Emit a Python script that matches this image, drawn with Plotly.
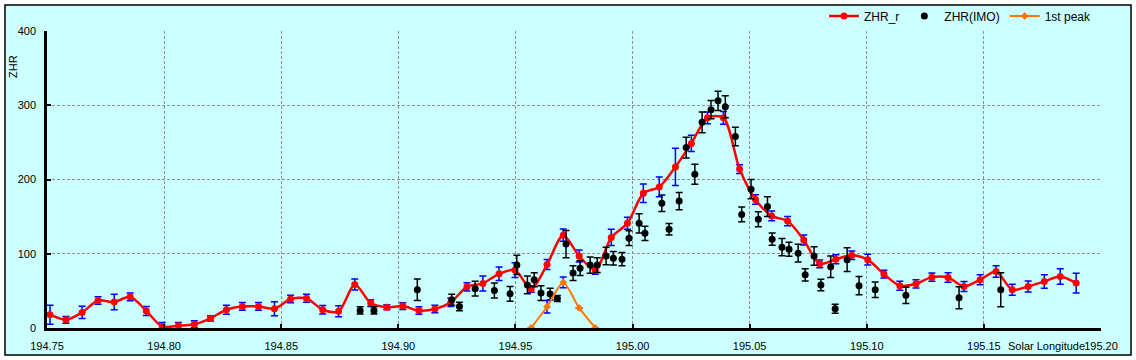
import plotly.graph_objects as go

# ---------------- data ----------------
red_sl = [194.7445, 194.7513, 194.7581, 194.7650, 194.7718, 194.7787, 194.7855, 194.7924, 194.7992,
          194.8061, 194.8129, 194.8198, 194.8266, 194.8334, 194.8403, 194.8471, 194.8540,
          194.8608, 194.8677, 194.8745, 194.8814, 194.8882, 194.8951, 194.9019, 194.9088,
          194.9156, 194.9224, 194.9293, 194.9361, 194.9430, 194.9498, 194.9567, 194.9635,
          194.9704, 194.9772, 194.9841, 194.9909, 194.9978, 195.0046, 195.0114, 195.0183,
          195.0251, 195.0320, 195.0388, 195.0457, 195.0525, 195.0594, 195.0662, 195.0731,
          195.0799, 195.0868, 195.0936, 195.1004, 195.1073, 195.1141, 195.1210, 195.1278,
          195.1347, 195.1415, 195.1484, 195.1552, 195.1621, 195.1689, 195.1758, 195.1826,
          195.1894]
red_zhr = [27, 18, 11, 21, 37, 35, 42, 23, 2, 3, 5, 13, 24.6, 29, 29, 26, 39, 40, 24.6, 22.5,
           58.5, 33.6, 28, 29.5, 23.5, 25.5, 34.5, 55.5, 60, 73, 78, 52.5, 85.5, 125, 97,
           78, 122, 141, 181.5, 190, 217, 248.6, 283, 283, 214, 173, 151, 144, 118.5, 86.5,
           92.7, 98, 92, 72.6, 57, 59.5, 68.5, 68, 56, 65, 76, 51.5, 56, 62.6, 69.4, 60.5]
red_err = [6, 12.8, 4.5, 8.3, 5, 10.5, 5.2, 6, 5.4, 4.3, 4.7, 3.6, 6, 5.2, 5.2, 9.4, 5, 5.4,
           5.8, 7.4, 7.4, 4.5, 3.4, 4.5, 5, 5, 5.6, 5.6, 10, 9, 9.9, 4.5, 6.7, 8.3, 8, 5.6,
           11, 8, 12.5, 13.4, 25, 11, 8, 8.5, 6, 6.5, 6.5, 6.3, 6.7, 5.2, 6, 5.8, 7.2, 5.2,
           6, 5.6, 5.6, 6.3, 6.7, 6.7, 7.8, 7.4, 7.4, 9, 10.5, 13.4]

imo_sl = [194.8837, 194.8896, 194.9081, 194.9228, 194.9261, 194.9328, 194.9410, 194.9477,
          194.9506, 194.9551, 194.9580, 194.9609, 194.9648, 194.9679, 194.9716, 194.9746,
          194.9776, 194.9819, 194.9849, 194.9887, 194.9918, 194.9955, 194.9985, 195.0028,
          195.0053, 195.0125, 195.0156, 195.0199, 195.0229, 195.0266, 195.0297, 195.0335,
          195.0365, 195.0396, 195.0439, 195.0466, 195.0506, 195.0537, 195.0576, 195.0596,
          195.0638, 195.0668, 195.0707, 195.0737, 195.0775, 195.0804, 195.0846, 195.0865,
          195.0916, 195.0967, 195.1036, 195.1167, 195.1394, 195.1572]
imo_zhr = [23.7, 23.7, 51.5, 38, 29, 53, 50.5, 46, 85, 58, 65, 47, 45.7, 39.8, 113, 74, 80.6,
           84.7, 84.7, 97, 94, 92.7, 121, 141, 127.6, 168, 133, 171, 243, 207, 277, 294, 306,
           298, 258, 153, 187, 146.5, 163.5, 119.6, 108.9, 106, 100.8, 71.6, 97, 58, 82.4,
           26, 92, 57, 51.5, 44, 40.7, 51.5]
imo_err = [5, 5, 14.5, 7.4, 5.6, 10, 10, 10, 13, 11.9, 9.4, 10, 8, 4, 18.4, 10, 10, 11, 10,
           11.9, 9, 9, 10, 13, 9.6, 11, 7.8, 11.6, 14, 13.4, 14, 12.3, 13, 14.8, 12.5, 10, 13,
           10, 13.4, 8.3, 11.6, 9.4, 12, 8.3, 12.5, 7.8, 14.5, 6, 16, 12.3, 10.3, 11, 14.8,
           22.8]

peak_sl = [194.9567, 194.9635, 194.9704, 194.9772, 194.9841]
peak_zhr = [0, 28.6, 61.5, 27, 0]
peak_err = [0, 8.5, 7.2, 0, 0]

x_ticks = [194.75, 194.80, 194.85, 194.90, 194.95, 195.00, 195.05, 195.10, 195.15, 195.20]
x_labels = ["194.75", "194.80", "194.85", "194.90", "194.95", "195.00", "195.05",
            "195.10", "195.15", "195.20"]
y_ticks = [0, 100, 200, 300, 400]

FONT = "Liberation Sans"
BG = "#CCFFFF"

fig = go.Figure()

fig.add_trace(go.Scatter(
    x=red_sl, y=red_zhr, name="ZHR_r", mode="lines+markers",
    line=dict(color="#FF0000", width=2.5, shape="spline", smoothing=0.8),
    marker=dict(color="#FF0000", size=7, symbol="circle"),
    error_y=dict(type="data", array=red_err, visible=True, color="#0000FF",
                 thickness=1.5, width=3.5),
))
fig.add_trace(go.Scatter(
    x=imo_sl, y=imo_zhr, name="ZHR(IMO)", mode="markers",
    marker=dict(color="#000000", size=7, symbol="circle"),
    error_y=dict(type="data", array=imo_err, visible=True, color="#000000",
                 thickness=1.5, width=3.5),
))
fig.add_trace(go.Scatter(
    x=peak_sl, y=peak_zhr, name="1st peak", mode="lines+markers",
    line=dict(color="#FF7700", width=2, shape="spline", smoothing=0.6),
    marker=dict(color="#FF7700", size=6, symbol="diamond"),
    error_y=dict(type="data", array=peak_err, visible=True, color="#0000FF",
                 thickness=1.5, width=3.5),
))

L, R, T, B = 47, 35, 31, 32
W, H = 1136, 360
pw, ph = W - L - R, H - T - B

def px_x(p):
    return (p - L) / pw

def px_y(p):
    return (H - B - p) / ph

fig.update_layout(
    width=W, height=H, autosize=False,
    margin=dict(l=L, r=R, t=T, b=B, pad=0, autoexpand=False),
    paper_bgcolor="white", plot_bgcolor=BG,
    font=dict(family=FONT, size=11, color="black"),
    showlegend=True,
    legend=dict(orientation="h", xref="container", yref="container",
                x=1097 / W, xanchor="right", y=1 - 16 / H, yanchor="middle",
                bgcolor="rgba(0,0,0,0)", font=dict(size=12),
                itemwidth=30, tracegroupgap=0),
    xaxis=dict(range=[194.75, 195.20], tickvals=x_ticks, ticktext=x_labels,
               automargin=False,
               showgrid=True, gridcolor="#909090", griddash="3px,2px", gridwidth=1,
               showline=True, linecolor="black", linewidth=2.5,
               ticks="inside", ticklen=4, tickwidth=2, tickcolor="black",
               zeroline=False, ticklabelstandoff=6, tickfont=dict(size=11)),
    yaxis=dict(range=[0, 400], tickvals=y_ticks, automargin=False,
               showgrid=True, gridcolor="#909090", griddash="3px,2px", gridwidth=1,
               showline=True, linecolor="black", linewidth=2.5,
               ticks="inside", ticklen=4, tickwidth=2, tickcolor="black",
               zeroline=False, ticklabelstandoff=6, tickfont=dict(size=11)),
    shapes=[dict(type="rect", xref="paper", yref="paper", layer="below",
                 x0=px_x(5), x1=px_x(1131), y0=px_y(355), y1=px_y(5),
                 fillcolor=BG, line=dict(color="black", width=1.5))],
    annotations=[
        dict(text="ZHR", xref="paper", yref="paper", x=px_x(13), y=px_y(67),
             textangle=-90, showarrow=False, xanchor="center", yanchor="middle",
             font=dict(size=11)),
        dict(text="Solar Longitude", xref="paper", yref="paper", x=px_x(1087),
             y=px_y(346), showarrow=False, xanchor="right", yanchor="middle",
             font=dict(size=11)),
    ],
)

fig.write_html("out.html", config={"displayModeBar": False},
               post_script="document.body.style.margin='0';")
